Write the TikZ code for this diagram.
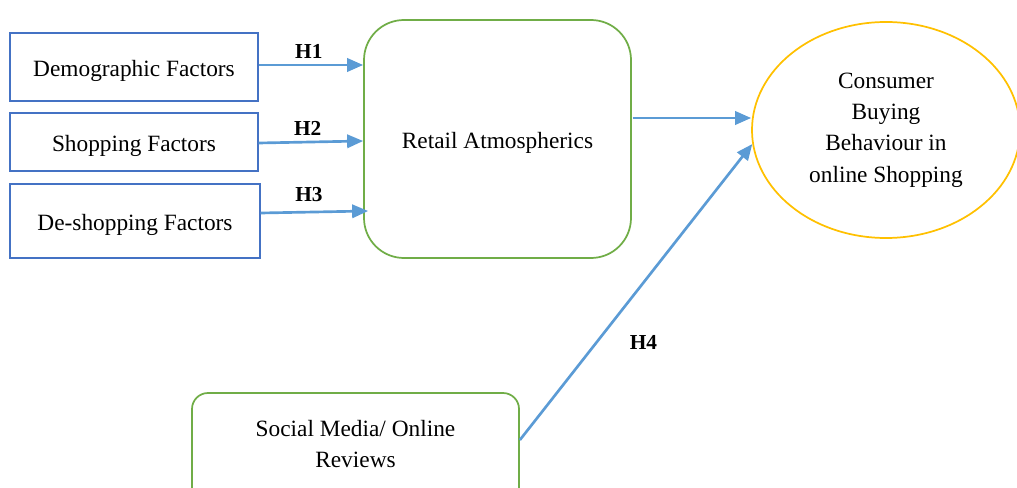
\documentclass[tikz,border=0pt]{standalone}
\usepackage{fontspec}
\setmainfont{Liberation Serif}
\usetikzlibrary{arrows.meta,calc,shapes.geometric}
\definecolor{boxblue}{RGB}{68,114,196}
\definecolor{arrblue}{RGB}{91,155,213}
\definecolor{leafgreen}{RGB}{112,173,71}
\definecolor{gold}{RGB}{255,192,0}
\tikzset{
  txt/.style={font=\fontsize{17.5}{23.5}\selectfont, align=center, inner sep=0pt},
  oneline/.style={text height=19pt, text depth=4pt},
  factor/.style={txt, oneline, draw=boxblue, line width=1pt, rectangle},
  rounded/.style={txt, draw=leafgreen, line width=1.3pt, rectangle},
  outcome/.style={txt, draw=gold, line width=1.3pt, ellipse},
  arr/.style={draw=arrblue, line width=2pt, -{Triangle[length=12pt,width=10pt]}},
  hyp/.style={font=\fontsize{16}{18}\selectfont\bfseries, inner sep=0pt}
}
\begin{document}
\begin{tikzpicture}[x=0.75pt, y=-0.75pt]
  \useasboundingbox (0,0) rectangle (1017,488);
  \clip (0,0) rectangle (1017,488);

  % factor boxes
  \node[factor, minimum width=248*0.75pt, minimum height=68*0.75pt] (dem) at (134,67) {Demographic Factors};
  \node[factor, minimum width=248*0.75pt, minimum height=58*0.75pt] (shp) at (134,142) {Shopping Factors};
  \node[factor, minimum width=250*0.75pt, minimum height=74*0.75pt] (des) at (135,221) {De-shopping Factors};

  % mediator
  \node[rounded, oneline, rounded corners=30pt, minimum width=267*0.75pt, minimum height=238*0.75pt] (ret) at (497.5,139) {Retail Atmospherics};

  % outcome
  \node[outcome, minimum width=268*0.75pt, minimum height=216*0.75pt] (cbb) at (886,130)
    {Consumer\\Buying\\Behaviour in\\online Shopping};

  % social media box
  \node[rounded, rounded corners=12pt, minimum width=327*0.75pt, minimum height=110*0.75pt, text depth=6pt] (soc) at (355.5,448)
    {Social Media/ Online\\Reviews};

  % hypothesised paths
  \draw[arr] ($(dem.east)+(0,-2)$) coordinate (d1) -- (d1 -| ret.west) node[hyp, pos=0.48, above=4pt] {H1};
  \draw[arr] ($(shp.east)+(0,1)$) coordinate (s1) -- ($(s1 -| ret.west)+(0,-2)$) node[hyp, pos=0.47, above=4pt] {H2};
  \draw[arr] ($(des.east)+(0,-8)$) coordinate (e1) -- ($(e1 -| ret.west)+(5,-2)$) node[hyp, pos=0.45, above=7pt] {H3};
  \draw[arr] ($(ret.east)+(1,-21)$) coordinate (r1) -- (r1 -| cbb.west);
  \draw[arr] ($(soc.east)+(0,-8)$) -- (cbb.186) node[hyp, pos=0.33, right=24pt] {H4};
\end{tikzpicture}
\end{document}
